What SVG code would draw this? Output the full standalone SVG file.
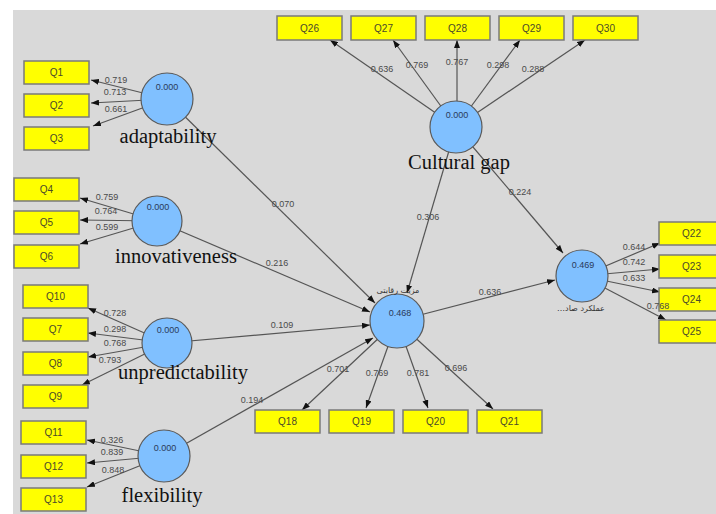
<svg xmlns="http://www.w3.org/2000/svg" width="716" height="514" viewBox="0 0 716 514">
<style>
.bg{fill:#d9d9d9}
.box{fill:#ffff00;stroke:#7a7a7a;stroke-width:1.5}
.bt{font-family:"Liberation Sans",Arial,sans-serif;font-size:10px;fill:#4a4a2a;text-anchor:middle}
.lv{fill:#80c0ff;stroke:#5a5a5a;stroke-width:1.2}
.val{font-family:"Liberation Sans",Arial,sans-serif;font-size:9px;fill:#2a3a5a;text-anchor:middle}
.name{font-family:"Liberation Serif","Times New Roman",serif;font-size:20.5px;fill:#111;text-anchor:middle}
.ar{font-family:"DejaVu Sans","Noto Sans",sans-serif;font-size:8px;fill:#333;text-anchor:middle}
.ln{stroke:#555;stroke-width:1.2;fill:none;marker-end:url(#ah)}
.ld{font-family:"Liberation Sans",Arial,sans-serif;font-size:9px;fill:#4a4a4a;text-anchor:middle}
</style>
<defs>
<marker id="ah" markerUnits="userSpaceOnUse" markerWidth="8" markerHeight="6" refX="8" refY="3" orient="auto">
<path d="M0,0 L8,3 L0,6 z" fill="#111"/>
</marker>
</defs>
<rect x="0" y="0" width="716" height="514" fill="#ffffff"/>
<rect class="bg" x="13" y="10" width="703" height="504"/>

<g id="connectors">
<line class="ln" x1="167" y1="99" x2="91" y2="80"/>
<line class="ln" x1="167" y1="99" x2="91" y2="103"/>
<line class="ln" x1="167" y1="99" x2="93" y2="126"/>
<line class="ln" x1="157" y1="221" x2="80" y2="198"/>
<line class="ln" x1="157" y1="221" x2="80" y2="220"/>
<line class="ln" x1="157" y1="221" x2="80" y2="244"/>
<line class="ln" x1="167" y1="343" x2="88" y2="308"/>
<line class="ln" x1="167" y1="343" x2="88" y2="333"/>
<line class="ln" x1="167" y1="343" x2="88" y2="357"/>
<line class="ln" x1="167" y1="343" x2="82" y2="385"/>
<line class="ln" x1="164" y1="456" x2="87" y2="440"/>
<line class="ln" x1="164" y1="456" x2="87" y2="463"/>
<line class="ln" x1="164" y1="456" x2="87" y2="487"/>
<line class="ln" x1="456" y1="127" x2="330" y2="40"/>
<line class="ln" x1="456" y1="127" x2="393" y2="40"/>
<line class="ln" x1="457" y1="127" x2="457" y2="40"/>
<line class="ln" x1="456" y1="127" x2="520" y2="40"/>
<line class="ln" x1="456" y1="127" x2="585" y2="40"/>
<line class="ln" x1="397" y1="321" x2="302" y2="410"/>
<line class="ln" x1="397" y1="321" x2="366" y2="408"/>
<line class="ln" x1="397" y1="321" x2="428" y2="408"/>
<line class="ln" x1="397" y1="321" x2="493" y2="409"/>
<line class="ln" x1="582" y1="276" x2="660" y2="243"/>
<line class="ln" x1="582" y1="276" x2="660" y2="269"/>
<line class="ln" x1="582" y1="276" x2="660" y2="292"/>
<line class="ln" x1="582" y1="276" x2="666" y2="320"/>
<line class="ln" x1="167" y1="99" x2="375" y2="303"/>
<line class="ln" x1="157" y1="221" x2="370" y2="312"/>
<line class="ln" x1="167" y1="343" x2="370" y2="325"/>
<line class="ln" x1="164" y1="456" x2="373" y2="338"/>
<line class="ln" x1="456" y1="127" x2="407" y2="293"/>
<line class="ln" x1="456" y1="127" x2="563" y2="253"/>
<line class="ln" x1="397" y1="321" x2="555" y2="280"/>
</g>

<g id="Q1"><rect class="box" x="24" y="61" width="65" height="23"/><text class="bt" x="56.5" y="76">Q1</text></g>
<g id="Q2"><rect class="box" x="24" y="94" width="65" height="23"/><text class="bt" x="56.5" y="109">Q2</text></g>
<g id="Q3"><rect class="box" x="24" y="127" width="65" height="23"/><text class="bt" x="56.5" y="142">Q3</text></g>
<g id="Q4"><rect class="box" x="14" y="178" width="65" height="23"/><text class="bt" x="46.5" y="193">Q4</text></g>
<g id="Q5"><rect class="box" x="14" y="211" width="65" height="23"/><text class="bt" x="46.5" y="226">Q5</text></g>
<g id="Q6"><rect class="box" x="14" y="245" width="65" height="23"/><text class="bt" x="46.5" y="260">Q6</text></g>
<g id="Q10"><rect class="box" x="23" y="285" width="65" height="23"/><text class="bt" x="55.5" y="300">Q10</text></g>
<g id="Q7"><rect class="box" x="23" y="318" width="65" height="23"/><text class="bt" x="55.5" y="333">Q7</text></g>
<g id="Q8"><rect class="box" x="23" y="352" width="65" height="23"/><text class="bt" x="55.5" y="367">Q8</text></g>
<g id="Q9"><rect class="box" x="23" y="385" width="65" height="23"/><text class="bt" x="55.5" y="400">Q9</text></g>
<g id="Q11"><rect class="box" x="21" y="421" width="65" height="23"/><text class="bt" x="53.5" y="436">Q11</text></g>
<g id="Q12"><rect class="box" x="21" y="455" width="65" height="23"/><text class="bt" x="53.5" y="470">Q12</text></g>
<g id="Q13"><rect class="box" x="21" y="488" width="65" height="23"/><text class="bt" x="53.5" y="503">Q13</text></g>
<g id="Q26"><rect class="box" x="277" y="16" width="65" height="24"/><text class="bt" x="309.5" y="31.5">Q26</text></g>
<g id="Q27"><rect class="box" x="351" y="16" width="65" height="24"/><text class="bt" x="383.5" y="31.5">Q27</text></g>
<g id="Q28"><rect class="box" x="425" y="16" width="65" height="24"/><text class="bt" x="457.5" y="31.5">Q28</text></g>
<g id="Q29"><rect class="box" x="499" y="16" width="65" height="24"/><text class="bt" x="531.5" y="31.5">Q29</text></g>
<g id="Q30"><rect class="box" x="573" y="16" width="65" height="24"/><text class="bt" x="605.5" y="31.5">Q30</text></g>
<g id="Q18"><rect class="box" x="255" y="410" width="65" height="23"/><text class="bt" x="287.5" y="425">Q18</text></g>
<g id="Q19"><rect class="box" x="329" y="410" width="65" height="23"/><text class="bt" x="361.5" y="425">Q19</text></g>
<g id="Q20"><rect class="box" x="403" y="410" width="65" height="23"/><text class="bt" x="435.5" y="425">Q20</text></g>
<g id="Q21"><rect class="box" x="477" y="410" width="65" height="23"/><text class="bt" x="509.5" y="425">Q21</text></g>
<g id="Q22"><rect class="box" x="659" y="222" width="65" height="23"/><text class="bt" x="691.5" y="237">Q22</text></g>
<g id="Q23"><rect class="box" x="659" y="255" width="65" height="23"/><text class="bt" x="691.5" y="270">Q23</text></g>
<g id="Q24"><rect class="box" x="659" y="288" width="65" height="23"/><text class="bt" x="691.5" y="303">Q24</text></g>
<g id="Q25"><rect class="box" x="659" y="320" width="65" height="23"/><text class="bt" x="691.5" y="335">Q25</text></g>

<g id="adaptability"><circle class="lv" cx="167" cy="99" r="26"/><text class="val" x="167" y="90">0.000</text><text class="name" x="168" y="143">adaptability</text></g>
<g id="innovativeness"><circle class="lv" cx="157" cy="221" r="25"/><text class="val" x="158" y="210">0.000</text><text class="name" x="176" y="263">innovativeness</text></g>
<g id="unpredictability"><circle class="lv" cx="167" cy="343" r="25"/><text class="val" x="168" y="333">0.000</text><text class="name" x="183" y="379">unpredictability</text></g>
<g id="flexibility"><circle class="lv" cx="164" cy="456" r="26"/><text class="val" x="165" y="451">0.000</text><text class="name" x="162" y="502">flexibility</text></g>
<g id="cultural-gap"><circle class="lv" cx="456" cy="127" r="26"/><text class="val" x="457" y="118">0.000</text><text class="name" x="459" y="169">Cultural gap</text></g>
<g id="competitive-advantage"><circle class="lv" cx="397" cy="321" r="27"/><text class="val" x="400" y="316">0.468</text><text class="ar" x="398" y="293" direction="rtl">مزیت رقابتی</text></g>
<g id="export-performance"><circle class="lv" cx="582" cy="276" r="26"/><text class="val" x="583" y="268">0.469</text><text class="ar" x="581" y="311" direction="rtl">عملکرد صاد…</text></g>

<g id="connector-labels">
<text class="ld" x="116" y="83">0.719</text>
<text class="ld" x="115" y="95">0.713</text>
<text class="ld" x="116" y="112">0.661</text>
<text class="ld" x="107" y="200">0.759</text>
<text class="ld" x="106" y="214">0.764</text>
<text class="ld" x="107" y="230">0.599</text>
<text class="ld" x="115" y="316">0.728</text>
<text class="ld" x="115" y="332">0.298</text>
<text class="ld" x="115" y="346">0.768</text>
<text class="ld" x="110" y="363">0.793</text>
<text class="ld" x="112" y="443">0.326</text>
<text class="ld" x="112" y="455">0.839</text>
<text class="ld" x="113" y="473">0.848</text>
<text class="ld" x="382" y="72">0.636</text>
<text class="ld" x="417" y="68">0.769</text>
<text class="ld" x="457" y="65">0.767</text>
<text class="ld" x="498" y="68">0.298</text>
<text class="ld" x="533" y="72">0.288</text>
<text class="ld" x="338" y="372">0.701</text>
<text class="ld" x="377" y="376">0.769</text>
<text class="ld" x="418" y="376">0.781</text>
<text class="ld" x="456" y="371">0.696</text>
<text class="ld" x="634" y="250">0.644</text>
<text class="ld" x="634" y="265">0.742</text>
<text class="ld" x="634" y="281">0.633</text>
<text class="ld" x="658" y="309">0.768</text>
<text class="ld" x="283" y="207">0.070</text>
<text class="ld" x="277" y="266">0.216</text>
<text class="ld" x="282" y="328">0.109</text>
<text class="ld" x="252" y="403">0.194</text>
<text class="ld" x="428" y="220">0.306</text>
<text class="ld" x="520" y="195">0.224</text>
<text class="ld" x="490" y="295">0.636</text>
</g>
</svg>
